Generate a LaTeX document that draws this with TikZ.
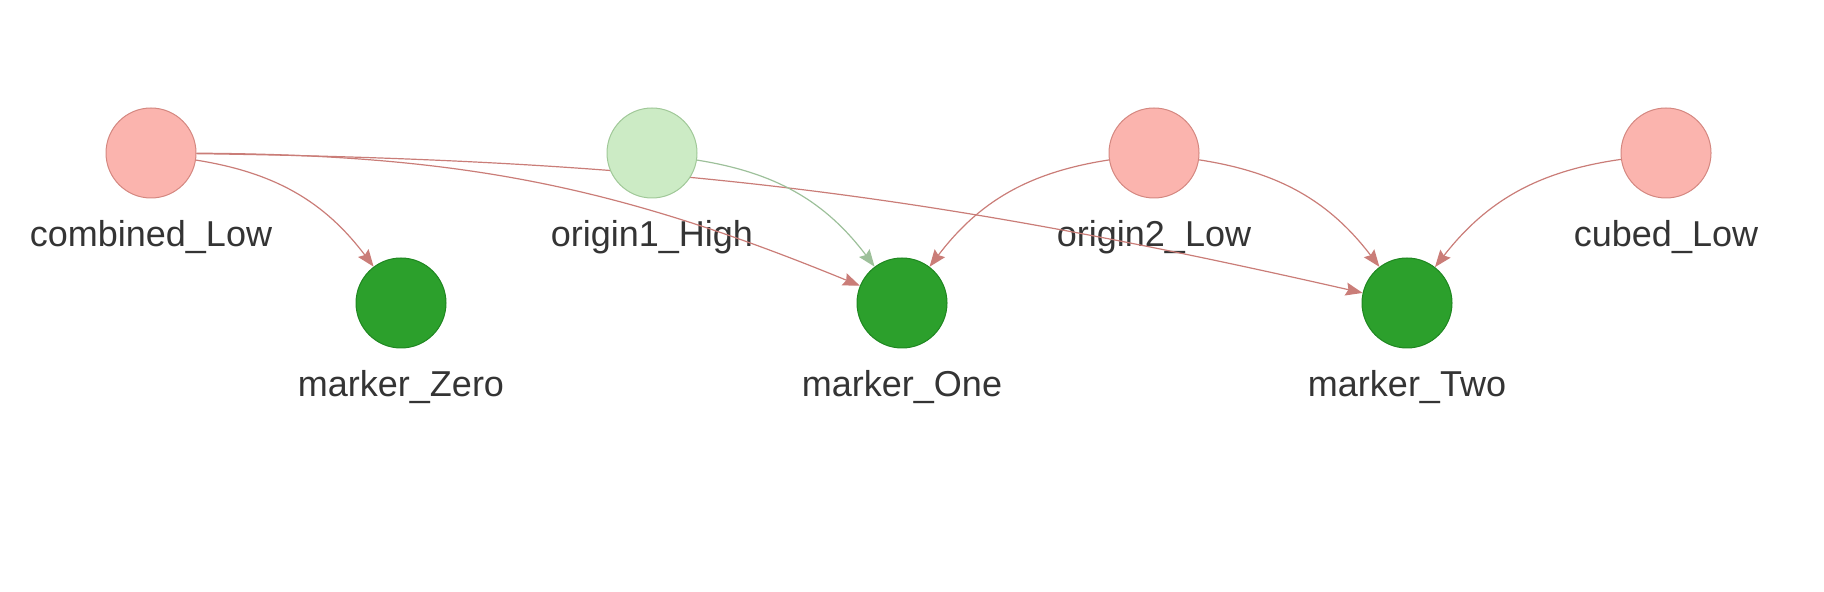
\documentclass[tikz,border=0pt]{standalone}
\usepackage{fontspec}
\setmainfont{Liberation Sans}
\usepackage{xcolor}
\usepackage{tikz}
\usetikzlibrary{arrows.meta}
\definecolor{lowfill}{RGB}{251,180,174}
\definecolor{lowdraw}{RGB}{212,135,128}
\definecolor{highfill}{RGB}{204,235,197}
\definecolor{highdraw}{RGB}{160,200,152}
\definecolor{markfill}{RGB}{44,160,44}
\definecolor{markdraw}{RGB}{30,135,32}
\definecolor{lowedge}{RGB}{202,125,120}
\definecolor{highedge}{RGB}{157,192,154}
\definecolor{labeltext}{RGB}{52,52,52}
\pgfdeclarelayer{labels}
\pgfdeclarelayer{edges}
\pgfsetlayers{labels,edges,main}
\tikzset{
	low node/.style={circle,draw=lowdraw,fill=lowfill,minimum size=45pt,inner sep=0pt,line width=0.5pt},
	high node/.style={circle,draw=highdraw,fill=highfill,minimum size=45pt,inner sep=0pt,line width=0.5pt},
	marker node/.style={circle,draw=markdraw,fill=markfill,minimum size=45pt,inner sep=0pt,line width=0.5pt},
	name label/.style={anchor=base,inner sep=0pt,text=labeltext,font=\fontsize{18pt}{20pt}\selectfont},
	low edge/.style={draw=lowedge,line width=0.6pt},
	high edge/.style={draw=highedge,line width=0.6pt}
}

\begin{document}
\begin{tikzpicture}[x=0.5pt,y=0.5pt,->,>={Stealth[length=8.5pt,width=6.5pt,inset=1.2pt]}]
	\useasboundingbox (0,0) rectangle (1824,-592);
	% upper row
	\node [low node] (cl) at (151,-153) {};
	\node [high node] (o1h) at (652,-153) {};
	\node [low node] (o2l) at (1154,-153) {};
	\node [low node] (cbl) at (1666,-153) {};
	% lower row
	\node [marker node] (m0) at (401,-303) {};
	\node [marker node] (m1) at (902,-303) {};
	\node [marker node] (m2) at (1407,-303) {};
	\begin{pgfonlayer}{labels}
		\node [name label] (cl-t) at ([yshift=-47pt]cl.center) {combined\_Low};
		\node [name label] (o1h-t) at ([yshift=-47pt]o1h.center) {origin1\_High};
		\node [name label] (o2l-t) at ([yshift=-47pt]o2l.center) {origin2\_Low};
		\node [name label] (cbl-t) at ([yshift=-47pt]cbl.center) {cubed\_Low};
		\node [name label] (m0-t) at ([yshift=-47pt]m0.center) {marker\_Zero};
		\node [name label] (m1-t) at ([yshift=-47pt]m1.center) {marker\_One};
		\node [name label] (m2-t) at ([yshift=-47pt]m2.center) {marker\_Two};
	\end{pgfonlayer}
	\begin{pgfonlayer}{edges}
		\draw [low edge] (cl) to[bend left=22] (m0);
		\draw [low edge] (cl) to[bend left=11] (m1);
		\draw [low edge] (cl) to[bend left=6] (m2);
		\draw [high edge] (o1h) to[bend left=22] (m1);
		\draw [low edge] (o2l) to[bend right=22] (m1);
		\draw [low edge] (o2l) to[bend left=22] (m2);
		\draw [low edge] (cbl) to[bend right=22] (m2);
	\end{pgfonlayer}
\end{tikzpicture}
\end{document}
